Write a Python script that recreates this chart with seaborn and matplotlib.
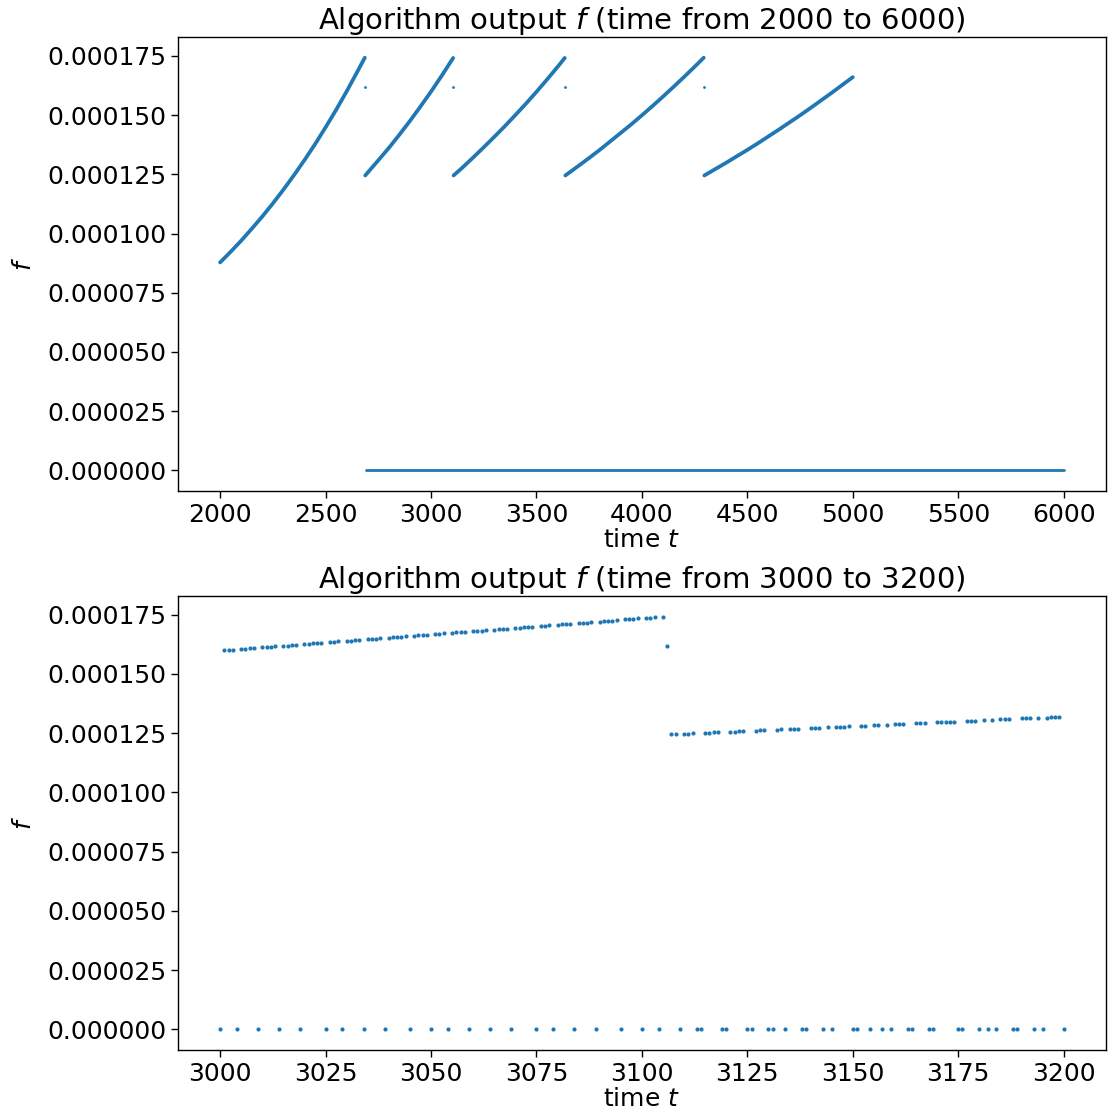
import matplotlib
matplotlib.use("Agg")
import matplotlib.pyplot as plt
import seaborn as sns
import pandas as pd
from matplotlib.ticker import FormatStrFormatter

# ---------------- data (f in units of 1e-6) ----------------
# Top panel: dense curve segments (time, f)
seg1_t = [2000, 2050, 2100, 2150, 2200, 2250, 2300, 2350, 2400, 2450, 2500, 2550, 2600, 2650, 2686]
seg1_f = [87.8, 92.3, 97.0, 102.0, 107.2, 112.7, 118.5, 124.6, 131.0, 137.7, 144.8, 152.2, 160.0, 168.2, 174.2]
seg2_t = [2688, 2750, 2800, 2850, 2900, 2950, 3000, 3050, 3105]
seg2_f = [124.5, 130.9, 136.1, 141.7, 147.5, 153.6, 159.9, 166.5, 174.1]
seg3_t = [3107, 3150, 3200, 3250, 3300, 3350, 3400, 3450, 3500, 3550, 3600, 3634]
seg3_f = [124.5, 127.9, 132.1, 136.4, 140.8, 145.3, 150.0, 154.8, 159.8, 165.0, 170.3, 174.1]
seg4_t = [3637, 3700, 3750, 3800, 3850, 3900, 3950, 4000, 4050, 4100, 4150, 4200, 4250, 4293]
seg4_f = [124.5, 128.6, 131.9, 135.3, 138.9, 142.5, 146.1, 149.9, 153.8, 157.8, 161.9, 166.1, 170.4, 174.2]
seg5_t = [4296, 4350, 4400, 4450, 4500, 4550, 4600, 4650, 4700, 4750, 4800, 4850, 4900, 4950, 5000]
seg5_f = [124.5, 127.3, 129.9, 132.6, 135.3, 138.1, 141.0, 143.9, 146.9, 149.9, 153.0, 156.2, 159.4, 162.7, 166.0]
lone_t = [2687, 3106, 3635, 4294]
lone_f = [162.0, 162.0, 162.0, 162.0]
zero_span_t = [2690, 6000]
zero_span_f = [0.0, 0.0]

# Bottom panel: individual samples
upper_t = [3001, 3002, 3003, 3005, 3006, 3007, 3008, 3010, 3011, 3012, 3013, 3015, 3016, 3017, 3018,
           3020, 3021, 3022, 3023, 3024, 3026, 3027, 3028, 3030, 3031, 3032, 3033, 3035, 3036, 3037,
           3038, 3040, 3041, 3042, 3043, 3044, 3046, 3047, 3048, 3049, 3051, 3052, 3053, 3055, 3056,
           3057, 3058, 3060, 3061, 3062, 3063, 3065, 3066, 3067, 3068, 3070, 3071, 3072, 3073, 3074,
           3076, 3077, 3078, 3080, 3081, 3082, 3083, 3085, 3086, 3087, 3088, 3090, 3091, 3092, 3093,
           3094, 3096, 3097, 3098, 3099, 3101, 3102, 3103, 3105]
upper_f = [160.0, 160.1, 160.3, 160.5, 160.7, 160.8, 161.0, 161.2, 161.4, 161.5, 161.6, 161.9, 162.0, 162.2, 162.3,
           162.6, 162.7, 162.9, 163.0, 163.1, 163.4, 163.6, 163.7, 164.0, 164.1, 164.2, 164.4, 164.6, 164.8, 164.9,
           165.0, 165.3, 165.5, 165.6, 165.7, 165.9, 166.1, 166.3, 166.4, 166.6, 166.8, 167.0, 167.1, 167.4, 167.5,
           167.6, 167.8, 168.1, 168.2, 168.3, 168.5, 168.7, 168.9, 169.0, 169.1, 169.4, 169.6, 169.7, 169.8, 170.0,
           170.2, 170.4, 170.5, 170.8, 170.9, 171.1, 171.2, 171.5, 171.6, 171.7, 171.9, 172.1, 172.3, 172.4, 172.5,
           172.7, 173.0, 173.1, 173.2, 173.4, 173.6, 173.8, 173.9, 174.2]
lower_t = [3107, 3108, 3110, 3111, 3112, 3115, 3116, 3117, 3118, 3121, 3122, 3123, 3124, 3127, 3128,
           3129, 3132, 3133, 3135, 3136, 3137, 3140, 3141, 3142, 3144, 3146, 3147, 3148, 3149, 3152,
           3153, 3155, 3156, 3158, 3160, 3161, 3162, 3165, 3166, 3167, 3170, 3171, 3172, 3173, 3174,
           3177, 3178, 3179, 3181, 3183, 3185, 3186, 3187, 3190, 3191, 3192, 3194, 3196, 3197, 3198, 3199]
lower_f = [124.5, 124.6, 124.7, 124.8, 124.9, 125.2, 125.2, 125.3, 125.4, 125.6, 125.7, 125.8, 125.9, 126.1, 126.2,
           126.3, 126.5, 126.6, 126.8, 126.8, 126.9, 127.2, 127.2, 127.3, 127.5, 127.7, 127.7, 127.8, 127.9, 128.1,
           128.2, 128.4, 128.4, 128.6, 128.8, 128.8, 128.9, 129.2, 129.2, 129.3, 129.6, 129.6, 129.7, 129.8, 129.9,
           130.1, 130.2, 130.3, 130.4, 130.6, 130.8, 130.8, 130.9, 131.2, 131.2, 131.3, 131.5, 131.6, 131.7, 131.8, 132.0]
spike_t = [3106]
spike_f = [162.0]
zero_t = [3000, 3004, 3009, 3014, 3019, 3025, 3029, 3034, 3039, 3045, 3050, 3054, 3059, 3064, 3069, 3075,
          3079, 3084, 3089, 3095, 3100, 3104, 3109, 3113, 3114, 3119, 3120, 3125, 3126, 3130, 3131, 3134,
          3138, 3139, 3143, 3145, 3150, 3151, 3154, 3157, 3159, 3163, 3164, 3168, 3169, 3175, 3176, 3180,
          3182, 3184, 3188, 3189, 3193, 3195, 3200]

SCALE = 1e-6
BLUE = "#1f77b4"

# ---------------- figure ----------------
sns.set_style("ticks")
plt.rcParams["font.family"] = ["DejaVu Sans"]
plt.rcParams["mathtext.fontset"] = "dejavusans"
for key in ["text.color", "axes.labelcolor", "xtick.color", "ytick.color", "axes.edgecolor"]:
    plt.rcParams[key] = "black"

fig = plt.figure(figsize=(11.08, 11.14), dpi=100)
ax1 = fig.add_axes([0.1606, 0.5592, 0.8375, 0.4075])
ax2 = fig.add_axes([0.1606, 0.0575, 0.8375, 0.4075])

FS = 18

# top panel
segments = [(seg1_t, seg1_f), (seg2_t, seg2_f), (seg3_t, seg3_f), (seg4_t, seg4_f), (seg5_t, seg5_f)]
for ts, fs in segments:
    sns.lineplot(x=ts, y=[v * SCALE for v in fs], ax=ax1, color=BLUE, linewidth=2.7,
                 estimator=None, sort=False, solid_capstyle="round")
sns.lineplot(x=zero_span_t, y=zero_span_f, ax=ax1, color=BLUE, linewidth=2.0,
             estimator=None, sort=False)
sns.scatterplot(x=lone_t, y=[v * SCALE for v in lone_f], ax=ax1, color=BLUE, s=4, linewidth=0)

# bottom panel
df_b = pd.DataFrame({
    "t": upper_t + lower_t + spike_t + zero_t,
    "f": [v * SCALE for v in upper_f + lower_f + spike_f] + [0.0] * len(zero_t),
})
sns.scatterplot(data=df_b, x="t", y="f", ax=ax2, color=BLUE, s=9, linewidth=0)

titles = ["Algorithm output $f$ (time from 2000 to 6000)",
          "Algorithm output $f$ (time from 3000 to 3200)"]
for ax, title in zip([ax1, ax2], titles):
    ax.set_title(title, fontsize=21, pad=4)
    ax.set_xlabel("time $t$", fontsize=FS, labelpad=1)
    ax.set_ylabel("$f$", fontsize=FS, labelpad=8)
    ax.yaxis.set_major_formatter(FormatStrFormatter("%.6f"))
    ax.tick_params(labelsize=FS, length=5, width=1)
    ax.set_ylim(-8.7e-6, 182.9e-6)
    for sp in ax.spines.values():
        sp.set_linewidth(1.0)

ax1.set_xlim(1800, 6200)
ax1.set_xticks([2000, 2500, 3000, 3500, 4000, 4500, 5000, 5500, 6000])
ax2.set_xlim(2990, 3210)
ax2.set_xticks([3000, 3025, 3050, 3075, 3100, 3125, 3150, 3175, 3200])
for ax in [ax1, ax2]:
    ax.set_yticks([0, 25e-6, 50e-6, 75e-6, 100e-6, 125e-6, 150e-6, 175e-6])

fig.savefig("out.png", dpi=100)
